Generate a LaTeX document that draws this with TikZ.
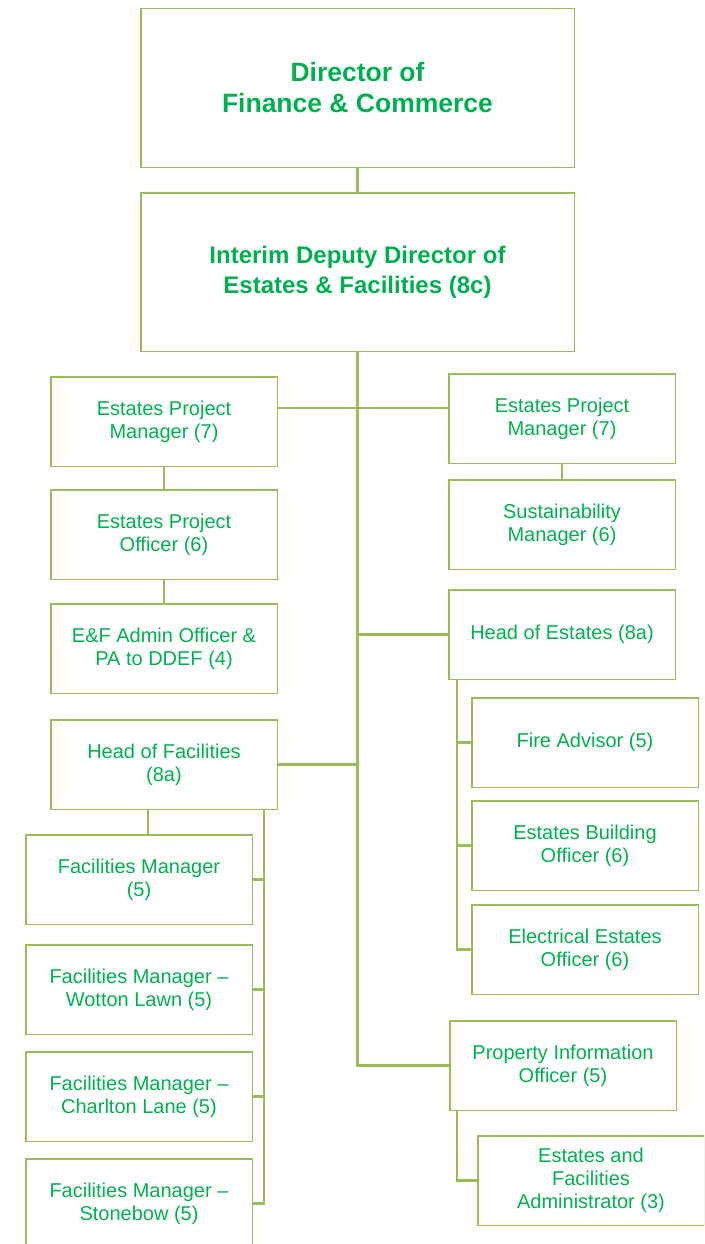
\documentclass[tikz,border=0pt]{standalone}
\usepackage{fontspec}
\setmainfont{Liberation Sans}
\usepackage{xcolor}
\definecolor{colorRole}{HTML}{00B050}
\definecolor{colorLink}{HTML}{9BBB59}
\usetikzlibrary{positioning}
\tikzset{post/.style={draw=colorLink, line width=1.5pt, minimum width=226.5pt, minimum height=89.5pt, inner sep=0pt, align=center, text=colorRole, font=\fontsize{20}{23}\selectfont},
  chief/.style={post, minimum width=433.5pt, minimum height=158.5pt},
  link/.style={draw=colorLink, line width=2.2pt}}

\begin{document}
\begin{tikzpicture}[x=1pt, y=1pt, node distance=24pt]
\useasboundingbox (0,0) rectangle (704,-1244);
\clip (0,0) rectangle (704,-1244);
\node[chief, font=\bfseries\fontsize{26.5}{31}\selectfont] (dir) at (357.5,-88) {Director of\\Finance \& Commerce};
\node[chief, below=24pt of dir, font=\bfseries\fontsize{24}{30}\selectfont] (ddef) {Interim Deputy Director of\\Estates \& Facilities (8c)};
\node[post] (epm1) at (164,-421.5) {Estates Project\\Manager (7)};
\node[post, below=22pt of epm1] (epo) {Estates Project\\Officer (6)};
\node[post, below=23pt of epo] (adm) {E\&F Admin Officer \&\\PA to DDEF (4)};
\node[post, below=25pt of adm] (hof) {Head of Facilities\\(8a)};
\node[post] (fm1) at (139,-879.5) {Facilities Manager\\(5)};
\node[post, below=19pt of fm1] (fm2) {Facilities Manager --\\Wotton Lawn (5)};
\node[post, below=16pt of fm2] (fm3) {Facilities Manager --\\Charlton Lane (5)};
\node[post, below=16pt of fm3] (fm4) {Facilities Manager --\\Stonebow (5)};
\node[post] (epm2) at (562,-418.5) {Estates Project\\Manager (7)};
\node[post, below=15pt of epm2] (sus) {Sustainability\\Manager (6)};
\node[post, below=19pt of sus] (hoe) {Head of Estates (8a)};
\node[post] (fire) at (585,-742.5) {Fire Advisor (5)};
\node[post, below=12pt of fire] (ebo) {Estates Building\\Officer (6)};
\node[post, below=13pt of ebo] (eeo) {Electrical Estates\\Officer (6)};
\node[post] (pio) at (563,-1065.5) {Property Information\\Officer (5)};
\node[post] (efa) at (591,-1180.5) {Estates and\\Facilities\\Administrator (3)};
\coordinate (jProj) at (0,-408);
\coordinate (eBar) at ([xshift=9pt]hoe.south west);
\coordinate (pBar) at ([xshift=8pt]pio.south west);
\coordinate (fBar) at ([xshift=-14pt]hof.south east);
\draw[link] (dir) -- (ddef);
\draw[link] (ddef.south) -- (ddef.south |- pio.west) -- (pio.west);
\draw[link] (epm1.east |- jProj) -- (epm2.west |- jProj);
\draw[link] (hoe.west) -- (hoe.west -| ddef.south);
\draw[link] (hof.east) -- (hof.east -| ddef.south);
\draw[link] (epm1) -- (epo);
\draw[link] (epo) -- (adm);
\draw[link] (epm2) -- (sus);
\draw[link] (eBar) |- (eeo.west);
\draw[link] (fire.west) -- (fire.west -| eBar);
\draw[link] (ebo.west) -- (ebo.west -| eBar);
\draw[link] (pBar) |- (efa.west);
\draw[link] ([xshift=9pt]fm1.north) -- ([xshift=9pt]fm1.north |- hof.south);
\draw[link] (fBar) |- (fm4.east);
\draw[link] (fm1.east) -- (fm1.east -| fBar);
\draw[link] (fm2.east) -- (fm2.east -| fBar);
\draw[link] (fm3.east) -- (fm3.east -| fBar);
\end{tikzpicture}
\end{document}
